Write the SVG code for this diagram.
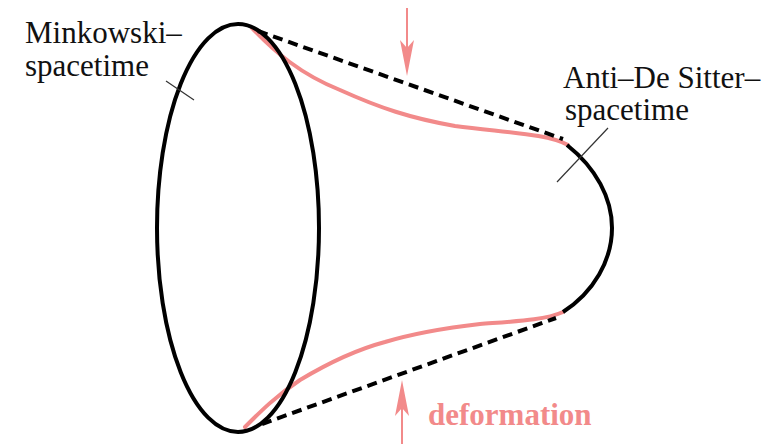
<svg xmlns="http://www.w3.org/2000/svg" width="782" height="444" viewBox="0 0 782 444">
<style>
.lbl{font-family:"Liberation Serif","Times New Roman",Times,"DejaVu Serif",serif;font-size:31px;fill:#111}
.def{font-family:"Liberation Serif","Times New Roman",Times,"DejaVu Serif",serif;font-size:31px;font-weight:bold;fill:#f28a8a}
.blk{fill:none;stroke:#000;stroke-width:4}
.pink{fill:none;stroke:#f28a8a;stroke-width:4;stroke-linecap:round}
.dash{fill:none;stroke:#000;stroke-width:4;stroke-dasharray:10 6}
.tick{stroke:#333;stroke-width:1.2}
.arr{fill:none;stroke:#f28a8a;stroke-width:2}
.head{fill:#f28a8a}
</style>
<rect width="782" height="444" fill="#fff"/>
<g id="deformed">
<path class="pink" d="M252,28 C275,52 300,74 340,90 C380,108 410,118 455,126 C510,133 548,134 568,145"/>
<path class="pink" d="M245,427 C262,410 276,396 300,380 C325,365 355,350 385,342 C415,333 445,328 480,324 C520,321 545,320 563,312"/>
</g>
<g id="minkowski">
<ellipse class="blk" cx="238" cy="228" rx="81" ry="204"/>
<line class="tick" x1="166" y1="81" x2="194" y2="100"/>
<text class="lbl" x="25" y="43">Minkowski–</text>
<text class="lbl" x="25" y="76">spacetime</text>
</g>
<g id="ads">
<path class="blk" d="M567,145 C596,168 612,198 612,228 C612,260 594,292 563,312"/>
<line class="tick" x1="608" y1="128" x2="557" y2="182"/>
<text class="lbl" x="563" y="88">Anti–De Sitter–</text>
<text class="lbl" x="565" y="120">spacetime</text>
</g>
<g id="connectors">
<line class="dash" x1="258" y1="31" x2="563" y2="139"/>
<line class="dash" x1="262" y1="424" x2="556" y2="318"/>
<line class="arr" x1="407" y1="8" x2="407" y2="50"/>
<path class="head" d="M407,76 L400,40 L407,48 L414,40 Z"/>
<line class="arr" x1="402" y1="444" x2="402" y2="404"/>
<path class="head" d="M402,380 L395,416 L402,408 L409,416 Z"/>
</g>
<g id="deformation-label">
<text class="def" x="428" y="425">deformation</text>
</g>
</svg>
